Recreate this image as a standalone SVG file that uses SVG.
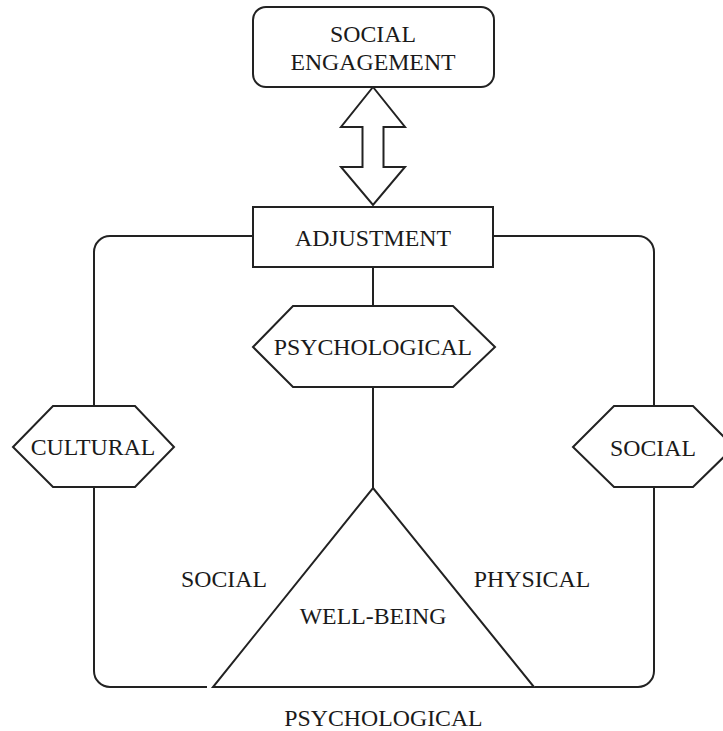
<svg xmlns="http://www.w3.org/2000/svg" width="723" height="731" viewBox="0 0 723 731">
<style>
.s{fill:#fff;stroke:#222;stroke-width:2;stroke-linejoin:miter}
.c{fill:none;stroke:#222;stroke-width:2}
text{font-family:"Liberation Serif","Times New Roman",serif;font-size:23.8px;fill:#1a1a1a;text-anchor:middle}
</style>
<rect width="723" height="731" fill="#fff"/>
<g id="connectors">
<path class="c" d="M253 236 H110 A16 16 0 0 0 94 252 V406"/>
<path class="c" d="M94 487 V671 A16 16 0 0 0 110 687 H207"/>
<path class="c" d="M493 236 H638 A16 16 0 0 1 654 252 V406"/>
<path class="c" d="M654 487 V671 A16 16 0 0 1 638 687 H535"/>
<path class="c" d="M373 267 V306"/>
<path class="c" d="M373 387 V488"/>
<polygon id="double-arrow" class="s" points="373,87 405,127 383.5,127 383.5,167 405,167 373,205 341,167 362.5,167 362.5,127 341,127"/>
</g>
<g id="social-engagement">
<rect class="s" x="253" y="7" width="241" height="80" rx="13"/>
<text x="373" y="42">SOCIAL</text>
<text x="373" y="70">ENGAGEMENT</text>
</g>
<g id="adjustment">
<rect class="s" x="253" y="207" width="240" height="60"/>
<text x="373" y="246">ADJUSTMENT</text>
</g>
<g id="psychological">
<polygon class="s" points="253,347 293,306 453,306 495,347 453,387 293,387"/>
<text x="373" y="355">PSYCHOLOGICAL</text>
</g>
<g id="cultural">
<polygon class="s" points="13,447 53,406 135,406 174,447 135,487 53,487"/>
<text x="93" y="455">CULTURAL</text>
</g>
<g id="social">
<polygon class="s" points="573,447 614,406 693,406 734,447 693,487 614,487"/>
<text x="653" y="456">SOCIAL</text>
</g>
<g id="well-being">
<polygon class="s" points="373,488 534,687 213,687"/>
<text x="373" y="624">WELL-BEING</text>
</g>
<g id="labels">
<text x="224" y="587">SOCIAL</text>
<text x="532" y="587">PHYSICAL</text>
<text x="383.5" y="726">PSYCHOLOGICAL</text>
</g>
</svg>
